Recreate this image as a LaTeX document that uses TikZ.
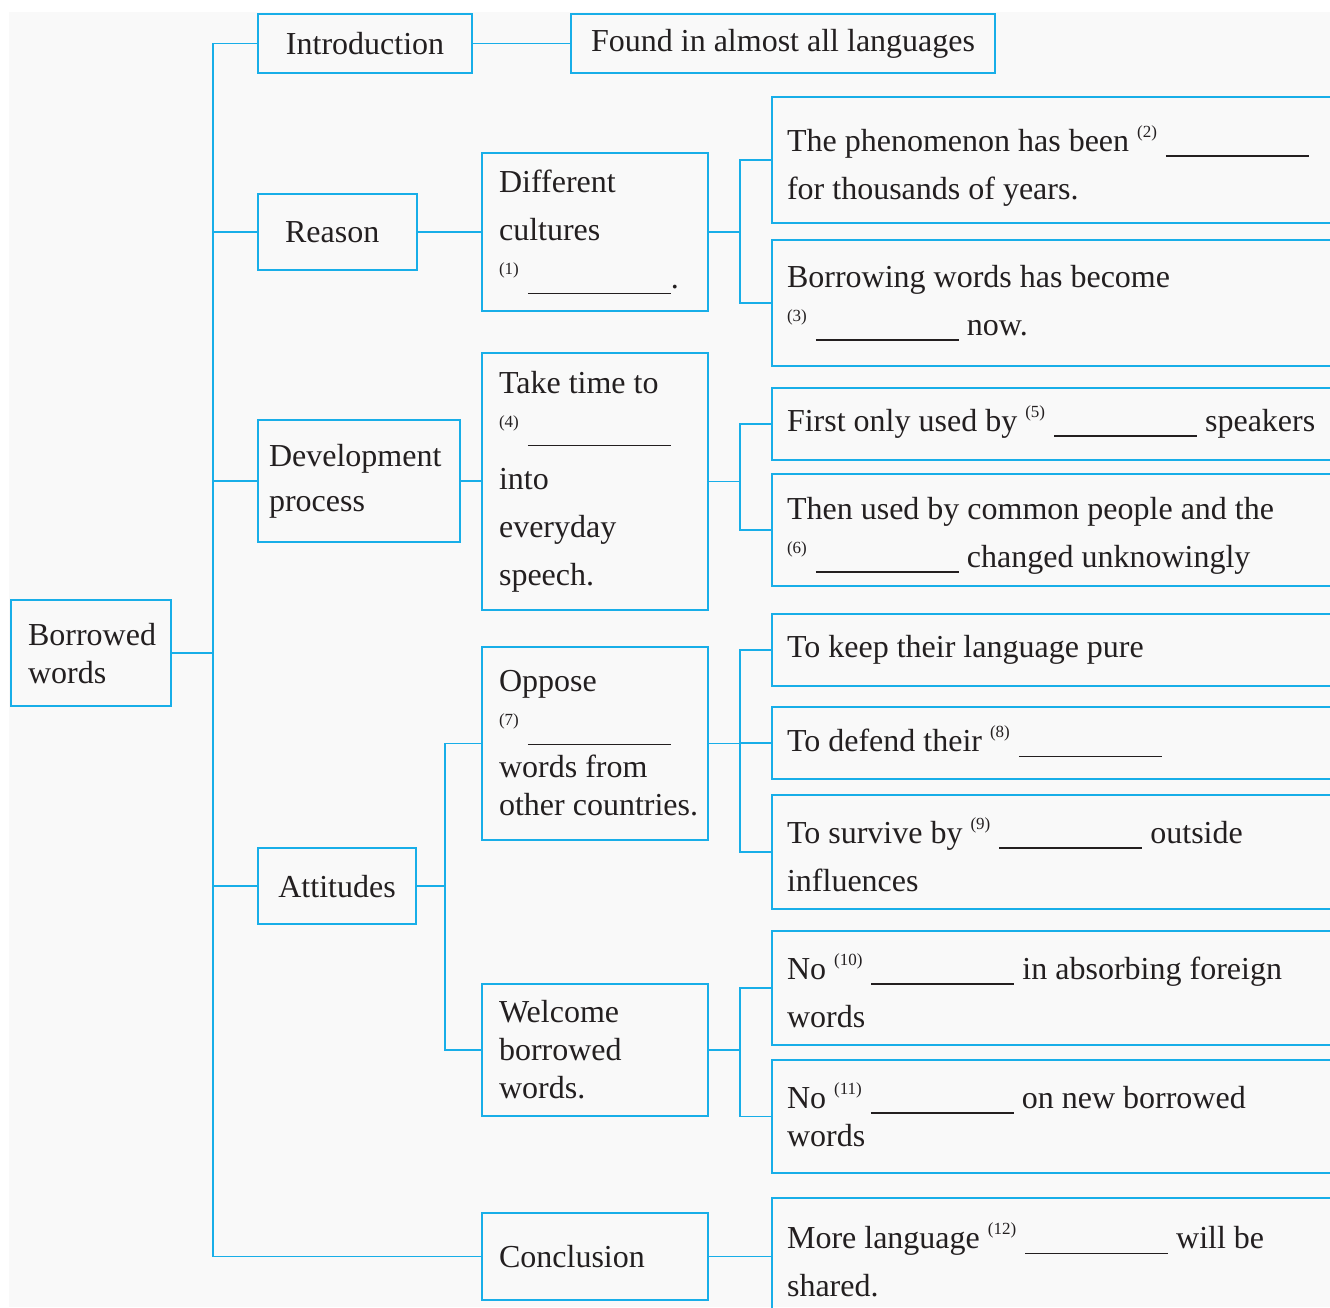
\documentclass[tikz,border=0pt]{standalone}
\usepackage{fontspec}
\setmainfont{Liberation Serif}
\usetikzlibrary{calc}
\definecolor{frame}{HTML}{18AEE8}
\definecolor{panel}{HTML}{F9F9F9}
\definecolor{ink}{HTML}{231F20}
\newcommand{\blankno}[1]{\smash{\raisebox{14pt}{\fontsize{17}{17}\selectfont(#1)}}\hspace{9pt}\rule[-5pt]{143pt}{1.3pt}}

\begin{document}
\begin{tikzpicture}[x=1pt,y=-1pt,
    blk/.style={draw=frame,line width=2.1pt,text=ink,anchor=north west,
        inner ysep=0pt,inner xsep=17pt,align=flush left,
        font=\fontsize{32}{48}\selectfont},
    wide/.style={blk,inner xsep=15pt,text width=600pt},
    lowered/.style={text height=20pt,text depth=37pt},
    wire/.style={draw=frame,line width=1.3pt}]
    \useasboundingbox (0,0) rectangle (1330,1307);
    \clip (0,0) rectangle (1330,1307);
    \fill[panel] (9,12) rectangle (1330,1307);

    % left column
    \node[blk,text width=126pt,minimum height=106pt,font=\fontsize{32}{38}\selectfont] (borrowed) at (10,599) {Borrowed\\words};
    \node[blk,minimum width=214pt,minimum height=59pt,align=center] (intro) at (257,13) {Introduction};
    \node[blk,minimum width=424pt,minimum height=59pt,align=center] (found) at (570,13) {Found in almost all languages};
    \node[blk,inner xsep=27pt,text width=105pt,minimum height=76pt] (reason) at (257,193) {Reason};
    \node[blk,inner xsep=11pt,text width=180pt,minimum height=122pt,font=\fontsize{32}{45}\selectfont] (devel) at (257,419) {Development\\process};
    \node[blk,minimum width=158pt,minimum height=76pt,align=center] (att) at (257,847) {Attitudes};

    % middle column
    \node[blk,text width=192pt,minimum height=158pt] (diff) at (481,152) {Different\\cultures\\\blankno{1}.};
    \node[blk,text width=192pt,minimum height=257pt] (take) at (481,352) {Take time to\\\blankno{4}\\into\\everyday\\speech.};
    \node[blk,text width=192pt,minimum height=193pt,font=\fontsize{32}{38}\selectfont] (oppose) at (481,646) {Oppose\\[10pt]\blankno{7}\\words from\\\mbox{other countries.}};
    \node[blk,text width=192pt,minimum height=132pt,font=\fontsize{32}{38}\selectfont] (welcome) at (481,983) {Welcome\\borrowed\\words.};
    \node[blk,text width=192pt,minimum height=87pt] (concl) at (481,1212) {Conclusion};

    % right column
    \node[wide,lowered,minimum height=126pt] (phen) at (771,96) {The phenomenon has been \blankno{2}\\for thousands of years.};
    \node[wide,minimum height=126pt] (borr) at (771,239) {Borrowing words has become\\\blankno{3} now.};
    \node[wide,minimum height=72pt] (first) at (771,387) {First only used by \blankno{5} speakers};
    \node[wide,lowered,text depth=41pt,minimum height=112pt] (then) at (771,473) {Then used by common people and the\\\blankno{6} changed unknowingly};
    \node[wide,minimum height=72pt] (keep) at (771,613) {To keep their language pure};
    \node[wide,minimum height=72pt] (defend) at (771,706) {To defend their \blankno{8}};
    \node[wide,lowered,minimum height=114pt] (survive) at (771,794) {To survive by \blankno{9} outside\\influences};
    \node[wide,lowered,minimum height=114pt] (no10) at (771,930) {No \blankno{10} in absorbing foreign\\words};
    \node[wide,minimum height=113pt,font=\fontsize{32}{38}\selectfont] (no11) at (771,1059) {No \blankno{11} on new borrowed\\words};
    \node[wide,minimum height=128pt] (more) at (771,1197) {More language \blankno{12} will be\\shared.};

    % connectors
    \coordinate (trunk) at (213,0);
    \coordinate (fork) at (445,0);
    \coordinate (rjoin) at (740,0);
    \draw[wire] (borrowed.east) -- (trunk |- borrowed.east);
    \draw[wire] (intro.west) -- (trunk |- intro.west) -- (trunk |- concl.west) -- (concl.west);
    \foreach \n in {reason,devel,att}
        \draw[wire] (trunk |- \n.west) -- (\n.west);
    \draw[wire] (intro.east) -- (found.west);
    \draw[wire] (reason.east) -- (diff.west |- reason.east);
    \draw[wire] (devel.east) -- (take.west |- devel.east);
    \draw[wire] (att.east) -- (fork |- att.east);
    \draw[wire] (oppose.west) -- (fork |- oppose.west) -- (fork |- welcome.west) -- (welcome.west);
    \foreach \src/\top/\bot in {diff/phen/borr,take/first/then,oppose/keep/survive,welcome/no10/no11}
        \draw[wire] (\src.east) -- (rjoin |- \src.east)
            (\top.west) -- (rjoin |- \top.west) -- (rjoin |- \bot.west) -- (\bot.west);
    \draw[wire] (rjoin |- defend.west) -- (defend.west);
    \draw[wire] (concl.east) -- (more.west |- concl.east);
\end{tikzpicture}
\end{document}
